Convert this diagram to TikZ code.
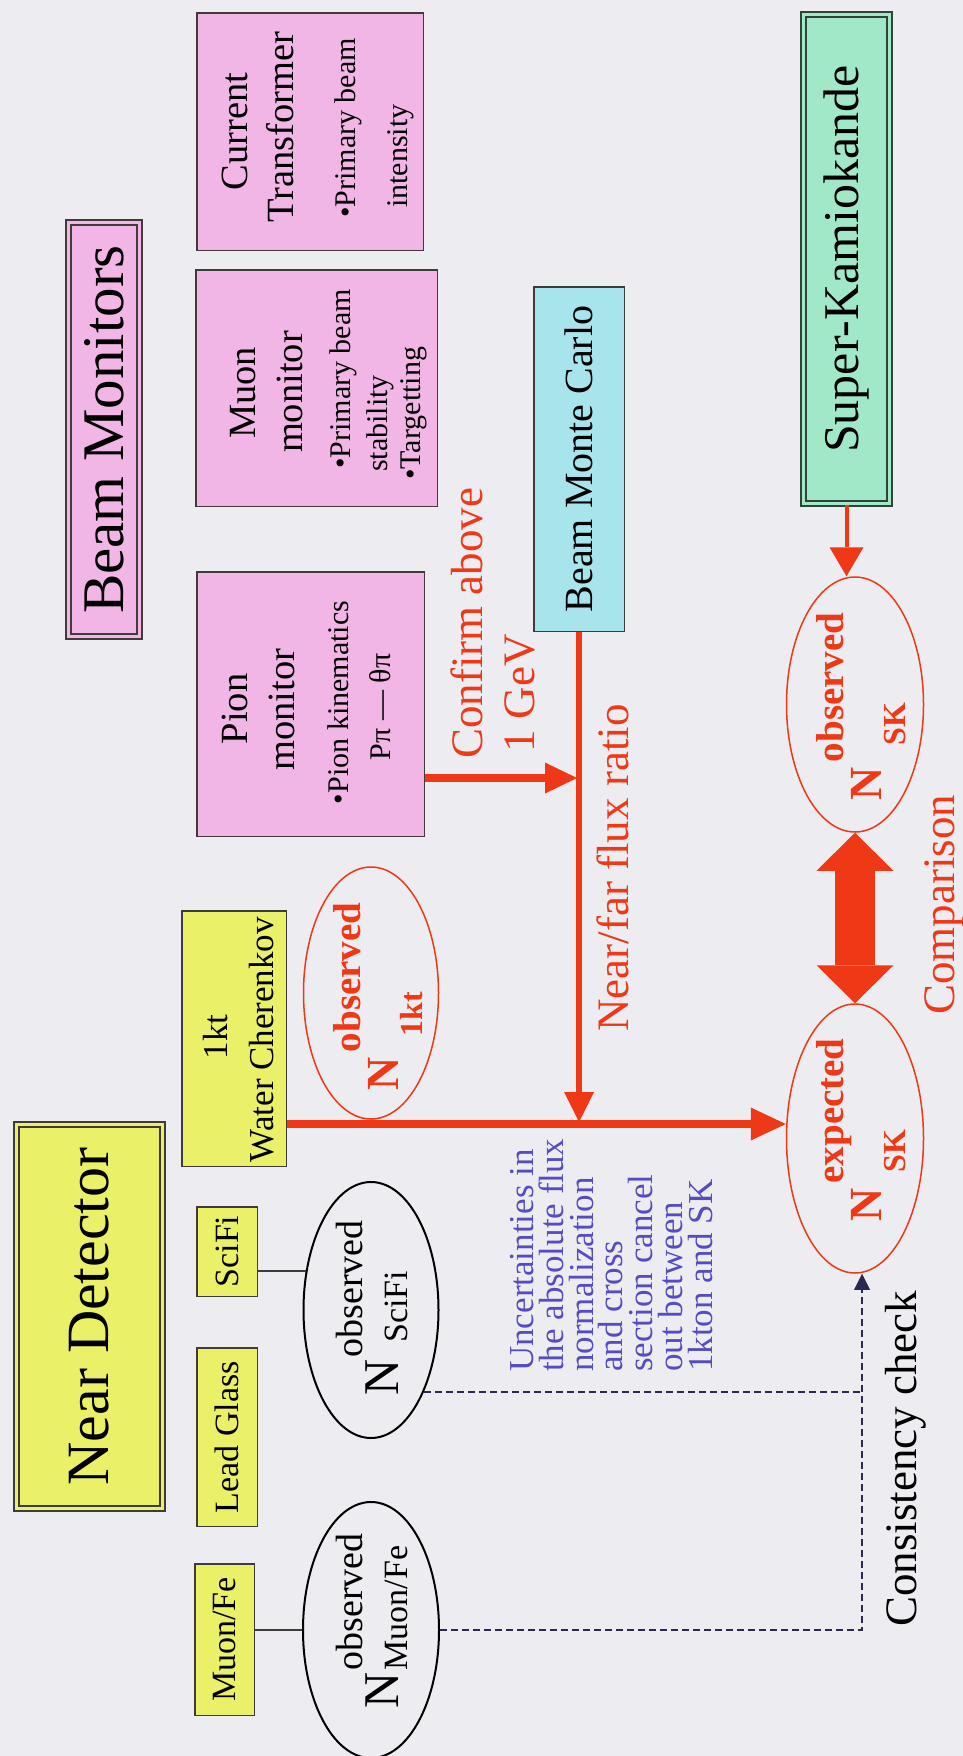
\documentclass[tikz,border=0pt]{standalone}
\usepackage{fontspec}
\setmainfont{Liberation Serif}
\usetikzlibrary{shapes.geometric,arrows.meta}
\definecolor{bgc}{RGB}{237,236,240}
\definecolor{pinkc}{RGB}{242,182,230}
\definecolor{yelc}{RGB}{234,240,104}
\definecolor{cyanc}{RGB}{168,228,236}
\definecolor{mintc}{RGB}{160,232,200}
\definecolor{redc}{RGB}{238,56,22}
\definecolor{bluec}{RGB}{85,75,195}
\definecolor{bordc}{RGB}{64,58,58}
\definecolor{skbord}{RGB}{48,68,52}
\definecolor{dashc}{RGB}{40,40,80}
\newcommand{\fsz}[1]{\fontsize{#1}{#1}\selectfont}
\newcommand{\NR}[3]{{\fsz{46}\bfseries N}\hspace{5pt}%
\makebox[0pt][l]{\raisebox{38pt}{\fsz{39}\bfseries #1}}%
\makebox[0pt][l]{\hspace{#3}\raisebox{-24pt}{\fsz{32}\bfseries #2}}%
\phantom{\fsz{39}\bfseries #1}}
\newcommand{\NB}[3]{{\fsz{50}N}\hspace{2pt}%
\makebox[0pt][l]{\raisebox{36pt}{\fsz{38}#1}}%
\makebox[0pt][l]{\hspace{#3}\raisebox{-9pt}{\fsz{34}#2}}%
\phantom{\fsz{38}#1}}
\begin{document}
\begin{tikzpicture}[x=1pt,y=1pt,
  box/.style={rotate=90, draw=bordc, line width=1.5pt, inner sep=0pt},
  dbox/.style={rotate=90, draw=bordc, line width=2pt, double distance=3pt, inner sep=0pt},
  ell/.style={ellipse, rotate=90, inner sep=0pt},
  txt/.style={rotate=90, inner sep=0pt},
  redell/.style={ell, draw=redc, line width=1.5pt},
  blkell/.style={ell, draw=black, line width=2pt},
  dashline/.style={dashc, line width=2pt, dash pattern=on 7pt off 4pt}
]
\fill[bgc] (0,0) rectangle (963,-1756);
\useasboundingbox (0,0) rectangle (963,-1756);

% boxes
\node[dbox, double=pinkc, fill=pinkc, minimum width=414pt, minimum height=71pt, font=\fsz{59}] (bm) at (104,-429.5) {Beam Monitors};
\node[box, fill=pinkc, minimum width=237.5pt, minimum height=226.5pt] (ct) at (310,-131.5) {};
\node[box, fill=pinkc, minimum width=236.5pt, minimum height=241.5pt] (mm) at (316.5,-388) {};
\node[box, fill=pinkc, minimum width=264.5pt, minimum height=227.5pt] (pm) at (310.5,-704) {};
\node[box, fill=cyanc, minimum width=344.5pt, minimum height=90.5pt, font=\fsz{40}] (bmc) at (579,-459) {Beam Monte Carlo};
\node[dbox, draw=skbord, double=mintc, fill=mintc, minimum width=489pt, minimum height=86pt, font=\fsz{50}] (sk) at (846.5,-259) {Super-Kamiokande};
\node[box, fill=yelc, minimum width=255.5pt, minimum height=104.5pt] (wc) at (234,-1038.5) {};
\node[dbox, double=yelc, fill=yelc, minimum width=384pt, minimum height=146pt, font=\fsz{60}] (nd) at (89.5,-1316.5) {Near Detector};
\node[box, fill=yelc, minimum width=89.5pt, minimum height=60.5pt, font=\fsz{34}] (sf) at (227,-1251.5) {SciFi};
\node[box, fill=yelc, minimum width=178.5pt, minimum height=60.5pt, font=\fsz{34}] (lg) at (227,-1437) {Lead Glass};
\node[box, fill=yelc, minimum width=151.5pt, minimum height=59.5pt, font=\fsz{34}] (mf) at (224.5,-1639.5) {Muon/Fe};

% box texts
\node[txt, anchor=base, font=\fsz{38.5}] at (247,-131.5) {Current};
\node[txt, anchor=base, font=\fsz{38.5}] at (293,-127) {Transformer};
\node[txt, anchor=base west, font=\fsz{30}] at (355,-218) {•Primary beam};
\node[txt, anchor=base west, font=\fsz{30}] at (407,-208) {intensity};

\node[txt, anchor=base, font=\fsz{38.5}] at (255,-393) {Muon};
\node[txt, anchor=base, font=\fsz{38.5}] at (302,-392) {monitor};
\node[txt, anchor=base west, font=\fsz{30}] at (350,-469) {•Primary beam};
\node[txt, anchor=base west, font=\fsz{30}] at (387,-472) {stability};
\node[txt, anchor=base west, font=\fsz{30}] at (420,-480) {•Targetting};

\node[txt, anchor=base, font=\fsz{38.5}] at (247,-709) {Pion};
\node[txt, anchor=base, font=\fsz{38.5}] at (294,-709.5) {monitor};
\node[txt, anchor=base, font=\fsz{30}] at (348,-702.5) {•Pion kinematics};
\node[txt, anchor=base, font=\fsz{30}] at (390,-707) {Pπ — θπ};

\node[txt, anchor=base, font=\fsz{35}] at (227,-1037) {1kt};
\node[txt, anchor=base, font=\fsz{35}] at (273,-1039.5) {Water Cherenkov};

% ellipses
\node[redell, minimum width=252pt, minimum height=135pt] (n1E) at (371,-993) {};
\node[redell, minimum width=255pt, minimum height=137pt] (nobs) at (855,-704.5) {};
\node[redell, minimum width=269pt, minimum height=137pt] (nexp) at (855,-1138.5) {};
\node[blkell, minimum width=256pt, minimum height=135pt] (sfE) at (371,-1310) {};
\node[blkell, minimum width=256pt, minimum height=136pt] (mfE) at (371,-1630) {};

\node[txt, anchor=base, redc] at (398,-996.5) {\NR{observed}{1kt}{16pt}};
\node[txt, anchor=base, redc] at (881,-706.5) {\NR{observed}{SK}{17pt}};
\node[txt, anchor=base, redc] at (881,-1130) {\NR{expected}{SK}{11pt}};
\node[txt, anchor=base] at (398,-1308) {\NB{observed}{SciFi}{15pt}};
\node[txt, anchor=base] at (398,-1621) {\NB{observed}{Muon/Fe}{0pt}};

% free labels
\node[txt, anchor=base west, redc, font=\fsz{45}] at (482,-759) {Confirm above};
\node[txt, anchor=base west, redc, font=\fsz{45}] at (534,-753) {1 GeV};
\node[txt, anchor=base west, redc, font=\fsz{45}] at (628,-1032) {Near/far flux ratio};
\node[txt, anchor=base west, redc, font=\fsz{45}] at (954,-1015) {Comparison};
\node[txt, anchor=base west, font=\fsz{45}] at (916,-1627) {Consistency check};
\node[txt, anchor=west, align=left, bluec, font={\fontsize{35}{29.8}\selectfont\lineskiplimit=-100pt\lineskip=0pt}] at (611.5,-1372)
  {Uncertainties in\\the absolute flux\\normalization\\and cross\\section cancel\\out between\\1kton and SK};

% connectors
\coordinate (j) at (580,-1124);
\coordinate (pa) at (577,-778);
\coordinate (chk) at (862,-1630);

\draw[redc, line width=6pt, -{Triangle[length=30pt,width=30pt,line width=0pt]}, shorten >=2pt] (bmc.west) -- (bmc.west |- j);
\draw[redc, line width=8pt, -{Triangle[length=32pt,width=31pt,line width=0pt]}] (pm.south |- pa) -- (pa);
\draw[redc, line width=8pt, -{Triangle[length=35pt,width=33pt,line width=0pt]}] (wc.south |- j) -- (j -| nexp.north);
\draw[redc, line width=4pt, -{Triangle[length=29pt,width=34pt,line width=0pt]}] (sk.west) -- (sk.west |- nobs.east);
\draw[redc, line width=40pt, {Triangle[length=38pt,width=77pt,line width=0pt]}-{Triangle[length=38pt,width=77pt,line width=0pt]}] (nobs.west) -- (nexp.east);

\draw[bordc, line width=2pt] (sf.south |- sfE.59.7) -- (sfE.59.7);
\draw[bordc, line width=2pt] (mf.south |- mfE.north) -- (mfE.north);

\draw[dashline, -{Triangle[length=16pt,width=16pt,line width=0pt]}] (mfE.south) -- (chk) -- (chk |- nexp.west);
\draw[dashline] (sfE.-147.6) -- (sfE.-147.6 -| chk);
\end{tikzpicture}
\end{document}
